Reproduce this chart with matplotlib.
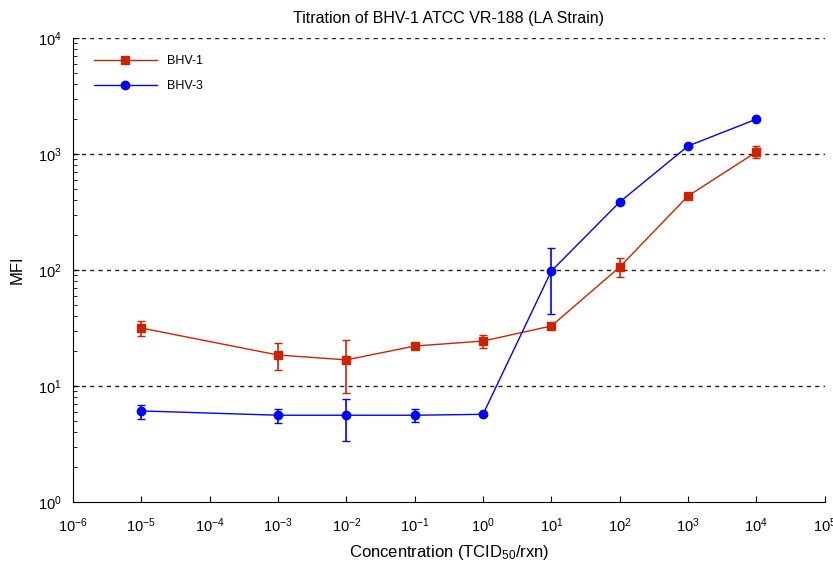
import matplotlib.pyplot as plt
import numpy as np

plt.rcParams['font.family'] = ['Liberation Sans', 'DejaVu Sans']
plt.rcParams['mathtext.default'] = 'regular'

conc = [1e-5, 1e-3, 1e-2, 1e-1, 1e0, 1e1, 1e2, 1e3, 1e4]

bhv1 = [31.6, 18.5, 16.8, 22.1, 24.4, 32.9, 106, 434, 1040]
bhv1_lo = [27, 13.7, 8.7, 21.0, 21.3, 31.5, 87, 405, 930]
bhv1_hi = [36, 23.5, 25, 23.2, 27.3, 34.3, 126, 465, 1170]

bhv3 = [6.1, 5.6, 5.6, 5.6, 5.7, 98, 385, 1170, 1995]
bhv3_lo = [5.2, 4.8, 3.35, 4.9, 5.5, 42, 375, 1140, 1950]
bhv3_hi = [6.8, 6.3, 7.7, 6.3, 5.9, 155, 395, 1200, 2040]


def main():
    fig = plt.figure(figsize=(8.33, 5.66), dpi=100)
    ax = fig.add_axes([0.0876, 0.113, 0.9024, 0.82])

    for y, lo, hi, col, mk, lab in [
        (bhv1, bhv1_lo, bhv1_hi, '#cc2200', 's', 'BHV-1'),
        (bhv3, bhv3_lo, bhv3_hi, '#0000ff', 'o', 'BHV-3'),
    ]:
        y = np.array(y)
        err = [y - np.array(lo), np.array(hi) - y]
        ax.errorbar(conc, y, yerr=err, color=col, fmt='none',
                    elinewidth=1.2, capsize=3, capthick=1)
        ax.plot(conc, y, color=col, marker=mk, markersize=6,
                linewidth=1, label=lab)

    ax.set_xscale('log')
    ax.set_yscale('log')
    ax.set_xlim(1e-6, 1e5)
    ax.set_ylim(1, 1e4)
    ax.set_xticks([10.0 ** k for k in range(-6, 6)])
    ax.set_yticks([10.0 ** k for k in range(0, 5)])

    for v in [10, 100, 1000, 10000]:
        ax.axhline(v, color='#222222', linestyle=(0, (3, 3)), linewidth=1, zorder=0)

    ax.spines['top'].set_visible(False)
    ax.spines['right'].set_visible(False)
    ax.tick_params(which='both', direction='in', labelsize=10.5)
    ax.tick_params(which='major', length=4)
    ax.tick_params(which='minor', length=3)
    ax.tick_params(axis='x', which='major', pad=10)
    ax.tick_params(axis='y', which='major', pad=8)

    ax.set_title('Titration of BHV-1 ATCC VR-188 (LA Strain)', fontsize=11.5, pad=11)
    ax.set_xlabel('Concentration (TCID$_{50}$/rxn)', fontsize=12, labelpad=6)
    ax.set_ylabel('MFI', fontsize=12, labelpad=10)

    ax.legend(loc='upper left', frameon=False, fontsize=9, handlelength=5,
              labelspacing=1.0, bbox_to_anchor=(0.0, 1.008), borderaxespad=1.3)

    fig.savefig('out.png', dpi=100)


if __name__ == "__main__":
    main()
